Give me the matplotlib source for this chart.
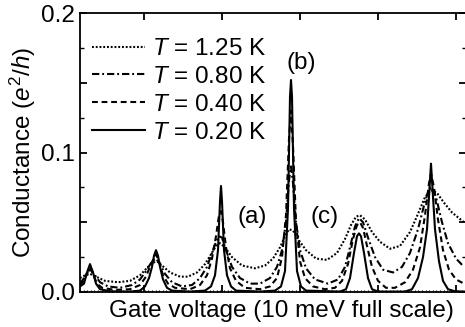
import matplotlib
matplotlib.use("Agg")
import matplotlib.pyplot as plt
from matplotlib.ticker import FixedLocator, FuncFormatter

plt.rcParams['font.family'] = ['Liberation Sans', 'DejaVu Sans']
plt.rcParams['mathtext.fontset'] = 'custom'
plt.rcParams['mathtext.rm'] = 'Liberation Sans'
plt.rcParams['mathtext.it'] = 'Liberation Sans:italic'

# Gate voltage in arbitrary units (full axis width ~ 386), conductance in e^2/h
x_120 = [0, 5, 10, 16, 25, 38, 50, 60, 68, 73, 77, 82, 90, 100, 108, 117, 125, 131, 136, 140, 145,
         152, 162, 175, 185, 193, 200, 205, 209, 213, 218, 226, 236, 247, 257, 265, 271, 276, 280,
         285, 292, 300, 310, 320, 330, 338, 345, 351, 357, 364, 372, 384]
y_120 = [0.010, 0.012, 0.013, 0.011, 0.008, 0.007, 0.008, 0.012, 0.018, 0.021, 0.022, 0.019,
         0.014, 0.011, 0.011, 0.014, 0.020, 0.027, 0.033, 0.035, 0.032, 0.025, 0.019, 0.017,
         0.019, 0.024, 0.032, 0.040, 0.045, 0.044, 0.038, 0.030, 0.024, 0.023, 0.028, 0.038,
         0.048, 0.054, 0.055, 0.052, 0.043, 0.036, 0.031, 0.033, 0.043, 0.056, 0.068, 0.073,
         0.071, 0.064, 0.057, 0.050]

x_080 = [0, 4, 8, 11, 15, 20, 28, 40, 52, 60, 67, 72, 76, 80, 85, 92, 102, 112, 120, 127, 132,
         136, 139, 142, 146, 152, 160, 170, 180, 190, 197, 202, 206, 209, 211, 213, 216, 220, 226,
         235, 248, 258, 265, 270, 275, 279, 283, 288, 295, 303, 313, 322, 330, 338, 344, 349, 352,
         356, 362, 368, 376, 384]
y_080 = [0.006, 0.010, 0.015, 0.016, 0.012, 0.007, 0.004, 0.003, 0.005, 0.009, 0.016, 0.022,
         0.024, 0.020, 0.013, 0.007, 0.004, 0.005, 0.010, 0.018, 0.028, 0.036, 0.040, 0.039,
         0.030, 0.018, 0.010, 0.006, 0.006, 0.010, 0.018, 0.030, 0.050, 0.080, 0.090, 0.078,
         0.050, 0.030, 0.017, 0.009, 0.006, 0.009, 0.018, 0.032, 0.047, 0.053, 0.050, 0.039,
         0.025, 0.016, 0.014, 0.018, 0.028, 0.045, 0.062, 0.074, 0.075, 0.068, 0.050, 0.035,
         0.024, 0.018]

x_040 = [0, 4, 7, 10, 13, 17, 22, 35, 50, 60, 66, 71, 75, 76, 79, 83, 88, 95, 110, 120, 127,
         132, 136, 139, 141, 143, 146, 150, 156, 165, 180, 190, 197, 202, 206, 209, 211, 213,
         216, 220, 225, 233, 245, 255, 262, 268, 273, 277, 280, 283, 287, 292, 298, 306, 315,
         325, 333, 340, 345, 349, 351, 354, 358, 363, 369, 376, 384]
y_040 = [0.005, 0.008, 0.013, 0.017, 0.013, 0.006, 0.003, 0.0015, 0.002, 0.005, 0.011, 0.020,
         0.026, 0.027, 0.022, 0.012, 0.006, 0.003, 0.002, 0.005, 0.012, 0.024, 0.040, 0.055,
         0.058, 0.050, 0.032, 0.017, 0.008, 0.003, 0.002, 0.004, 0.010, 0.025, 0.055, 0.110,
         0.130, 0.105, 0.050, 0.022, 0.010, 0.004, 0.002, 0.003, 0.008, 0.020, 0.038, 0.048,
         0.050, 0.046, 0.033, 0.018, 0.008, 0.003, 0.003, 0.007, 0.016, 0.032, 0.055, 0.078,
         0.085, 0.075, 0.052, 0.030, 0.016, 0.009, 0.006]

x_020 = [0, 4, 7, 10, 13, 16, 20, 30, 50, 60, 65, 69, 72, 74, 76, 78, 80, 83, 87, 92, 110, 125,
         131, 135, 138, 140, 141, 142, 144, 147, 151, 156, 180, 195, 201, 205, 208, 210, 211, 212,
         214, 217, 221, 226, 260, 266, 270, 274, 277, 279, 281, 284, 288, 292, 298, 325, 332,
         338, 343, 347, 350, 351, 352, 355, 359, 363, 368, 375, 384]
y_020 = [0.004, 0.006, 0.014, 0.020, 0.014, 0.006, 0.002, 0.0005, 0.0003, 0.001, 0.004, 0.010,
         0.018, 0.026, 0.030, 0.026, 0.018, 0.009, 0.003, 0.001, 0.0003, 0.001, 0.004, 0.012,
         0.030, 0.065, 0.076, 0.065, 0.030, 0.012, 0.004, 0.001, 0.0003, 0.001, 0.004, 0.015,
         0.060, 0.140, 0.152, 0.140, 0.060, 0.015, 0.004, 0.001, 0.0003, 0.002, 0.010, 0.028,
         0.040, 0.042, 0.040, 0.028, 0.010, 0.002, 0.0003, 0.0003, 0.002, 0.010, 0.025, 0.045,
         0.080, 0.092, 0.080, 0.045, 0.022, 0.008, 0.002, 0.0005, 0.0003]

labels = ['$T$ = 1.25 K', '$T$ = 0.80 K', '$T$ = 0.40 K', '$T$ = 0.20 K']
peak_labels = ['(a)', '(b)', '(c)']
peak_label_x = [172, 221, 245]
peak_label_y = [0.054, 0.164, 0.054]

FS = 17.5

fig = plt.figure(figsize=(4.65, 3.27), dpi=100)
ax = fig.add_axes([80 / 465, 35 / 327, 386 / 465, 279 / 327])

lw = 1.5
ax.plot(x_120, y_120, color='black', lw=lw, linestyle=(0, (0.9, 0.9)), label=labels[0])
ax.plot(x_080, y_080, color='black', lw=lw, linestyle=(0, (3.5, 1.4, 0.9, 1.4)), label=labels[1])
ax.plot(x_040, y_040, color='black', lw=lw, linestyle=(0, (2.8, 1.8)), label=labels[2])
ax.plot(x_020, y_020, color='black', lw=lw, linestyle='-', label=labels[3])

ax.set_xlim(0, 386)
ax.set_ylim(0, 0.2)

for lab, lx, ly in zip(peak_labels, peak_label_x, peak_label_y):
    ax.text(lx, ly, lab, fontsize=FS, ha='center', va='center')

ax.yaxis.set_major_locator(FixedLocator([0, 0.05, 0.1, 0.15, 0.2]))
ax.yaxis.set_minor_locator(FixedLocator([0.025, 0.075, 0.125, 0.175]))
ax.yaxis.set_major_formatter(FuncFormatter(
    lambda v, p: f'{v:.1f}' if abs(round(v * 10) - v * 10) < 1e-6 else ''))
ax.xaxis.set_major_locator(FixedLocator([64, 142, 220, 298, 376]))
ax.xaxis.set_minor_locator(FixedLocator([i * 3.6 for i in range(108)]))
ax.xaxis.set_major_formatter(FuncFormatter(lambda v, p: ''))

ax.tick_params(axis='both', which='major', direction='in', length=5, width=1.3,
               top=True, right=True, labelsize=FS, pad=3.5)
ax.tick_params(axis='y', which='minor', direction='in', length=3, width=1.0, right=True)
ax.tick_params(axis='x', which='minor', direction='in', length=1.8, width=0.8, top=False)
for s in ax.spines.values():
    s.set_linewidth(1.3)

ax.set_xlabel('Gate voltage (10 meV full scale)', fontsize=FS)
ax.xaxis.set_label_coords((281 - 80) / 386, -0.03)
ax.xaxis.label.set_va('top')
ax.set_ylabel('Conductance ($e^2/h$)', fontsize=FS)
ax.yaxis.set_label_coords(-(80 - 23) / 386, 0.5)
ax.yaxis.label.set_va('center')

leg = ax.legend(loc='upper left', bbox_to_anchor=(0.03, 0.91), frameon=False,
                fontsize=FS, handlelength=2.2, handletextpad=0.3,
                labelspacing=0.24, borderpad=0, borderaxespad=0)

fig.savefig('out.png', dpi=100)
